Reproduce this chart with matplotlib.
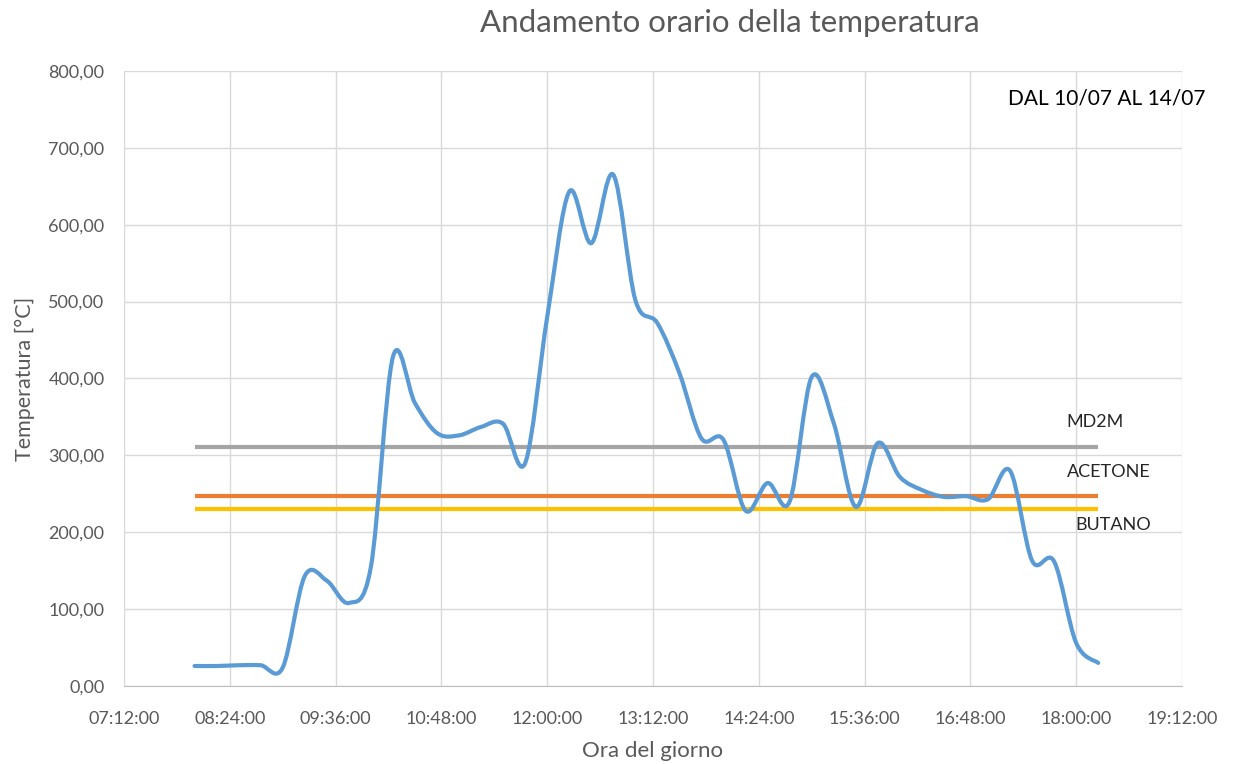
import matplotlib
matplotlib.use("Agg")
import matplotlib.pyplot as plt
from matplotlib.path import Path
from matplotlib.patches import PathPatch
from matplotlib.ticker import FuncFormatter, MultipleLocator

plt.rcParams["font.family"] = ["Lato", "DejaVu Sans"]

# rilevazioni ogni 15 minuti, dalle 08:00 alle 18:15 (minuti dalla mezzanotte)
orari = [8 * 60 + 15 * i for i in range(42)]
temperatura = [26, 26, 27, 27, 24, 143, 137, 108, 155, 428,
               368, 329, 326, 337, 341, 290, 480, 643, 576, 665,
               502, 472, 407, 322, 320, 228, 264, 240, 402, 342,
               233, 316, 272, 255, 246, 247, 243, 280, 163, 162,
               56, 30]

# temperature di riferimento dei gas
soglie = ["MD2M", "ACETONE", "BUTANO"]
valori_soglie = [311, 247, 230]
colori_soglie = ["#a5a5a5", "#ed7d31", "#ffc000"]


def curva_liscia(xs, ys):
    # linea smussata tipo Excel: bezier cubiche tra punti consecutivi
    pts = list(zip(xs, ys))
    verts = [pts[0]]
    codes = [Path.MOVETO]
    n = len(pts)
    for i in range(n - 1):
        p0 = pts[i - 1] if i > 0 else pts[i]
        p1 = pts[i]
        p2 = pts[i + 1]
        p3 = pts[i + 2] if i + 2 < n else pts[i + 1]
        c1 = (p1[0] + (p2[0] - p0[0]) / 6, p1[1] + (p2[1] - p0[1]) / 6)
        c2 = (p2[0] - (p3[0] - p1[0]) / 6, p2[1] - (p3[1] - p1[1]) / 6)
        verts += [c1, c2, p2]
        codes += [Path.CURVE4] * 3
    return Path(verts, codes)


fig = plt.figure(figsize=(12.33, 7.64), dpi=100)
ax = fig.add_axes([0.1006, 0.1021, 0.858, 0.805])

for nome, val, col in zip(soglie, valori_soglie, colori_soglie):
    ax.plot([orari[0], orari[-1]], [val, val], color=col, lw=3, solid_capstyle="butt", zorder=3)

ax.add_patch(PathPatch(curva_liscia(orari, temperatura), fill=False,
                       edgecolor="#5b9bd5", lw=3, capstyle="round", joinstyle="round", zorder=4))

# etichette delle soglie a destra
ax.text(1093, 344, "MD2M", fontsize=13, color="#262626", ha="center", va="center")
ax.text(1102, 279, "ACETONE", fontsize=13, color="#262626", ha="center", va="center")
ax.text(1105, 209, "BUTANO", fontsize=13, color="#262626", ha="center", va="center")
ax.text(1101, 764, "DAL 10/07 AL 14/07", fontsize=15, color="#000000", ha="center", va="center")

ax.set_xlim(432, 1152)
ax.set_ylim(0, 800)
ax.xaxis.set_major_locator(MultipleLocator(72))
ax.yaxis.set_major_locator(MultipleLocator(100))
ax.xaxis.set_major_formatter(FuncFormatter(lambda v, p: "%02d:%02d:00" % (int(v) // 60, int(v) % 60)))
ax.yaxis.set_major_formatter(FuncFormatter(lambda v, p: ("%.2f" % v).replace(".", ",")))

ax.grid(True, color="#d9d9d9", lw=1)
ax.set_axisbelow(True)
for s in ["top", "right", "left"]:
    ax.spines[s].set_visible(False)
ax.spines["bottom"].set_color("#bfbfbf")
ax.tick_params(length=0, labelsize=13, colors="#595959")
ax.tick_params(axis="x", pad=18)
ax.tick_params(axis="y", pad=14)

ax.set_xlabel("Ora del giorno", fontsize=16, color="#595959", labelpad=10)
ax.set_ylabel("Temperatura [°C]", fontsize=15.5, color="#595959", labelpad=10)
fig.text(0.592, 0.97, "Andamento orario della temperatura", fontsize=22.5, color="#595959",
         ha="center", va="center")

fig.savefig("out.png", dpi=100)
